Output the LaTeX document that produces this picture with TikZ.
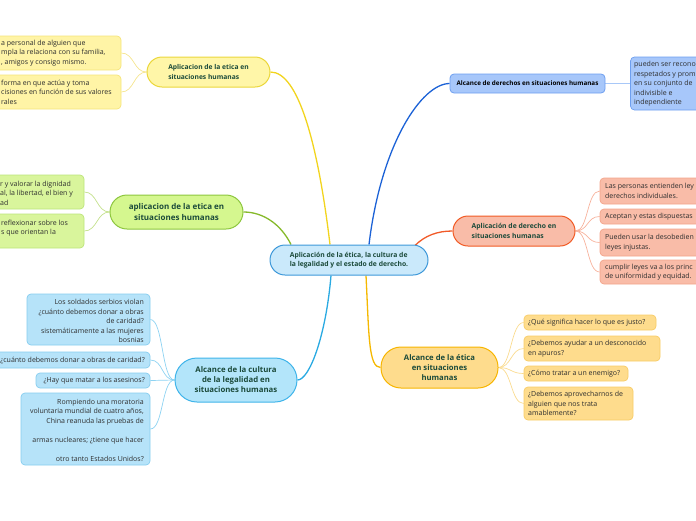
\documentclass[tikz,border=0pt]{standalone}
\usepackage{fontspec}
\setmainfont{Open Sans}
\usetikzlibrary{calc,backgrounds}
\definecolor{mtext}{HTML}{1B4A3A}
\definecolor{ctext}{HTML}{2E2E2E}
\definecolor{ctrfill}{HTML}{CAE9FB}\definecolor{ctrborder}{HTML}{3D98D9}
\definecolor{yfill}{HTML}{FFF6A8}\definecolor{yborder}{HTML}{EBD73B}\definecolor{yline}{HTML}{F2D41E}
\definecolor{ycfill}{HTML}{FFF4A6}\definecolor{ycborder}{HTML}{F5E47A}\definecolor{ycline}{HTML}{F5E58F}
\definecolor{gfill}{HTML}{D5F78F}\definecolor{gborder}{HTML}{8DC63F}\definecolor{gline}{HTML}{86B92A}
\definecolor{gcfill}{HTML}{D9F59C}\definecolor{gcborder}{HTML}{BCE47A}\definecolor{gcline}{HTML}{C3E08B}
\definecolor{cfill}{HTML}{B3E5FA}\definecolor{cborder}{HTML}{3FB4EA}\definecolor{cline}{HTML}{2AAAE2}
\definecolor{ccfill}{HTML}{B6E3F9}\definecolor{ccborder}{HTML}{86CDEF}\definecolor{ccline}{HTML}{8ED3F2}
\definecolor{dline}{HTML}{1C62D6}\definecolor{dfill}{HTML}{A7C7FA}\definecolor{dborder}{HTML}{6D9FF0}\definecolor{dcline}{HTML}{A8C8F8}
\definecolor{rfill}{HTML}{F9BCA8}\definecolor{rborder}{HTML}{F15A24}\definecolor{rline}{HTML}{F15A28}
\definecolor{rcborder}{HTML}{F3A48A}\definecolor{rcline}{HTML}{F7B29C}
\definecolor{ofill}{HTML}{FEDC8D}\definecolor{oborder}{HTML}{F7B500}\definecolor{oline}{HTML}{F5B800}
\definecolor{ocborder}{HTML}{F8CC66}\definecolor{ocline}{HTML}{FADB8F}
\tikzset{
  cb/.style={draw, rounded corners=4pt, line width=0.7pt, inner sep=0pt},
  ct/.style={inner sep=0pt, font=\fontsize{7}{9.5}\selectfont, text=ctext},
  mb/.style={draw, line width=1pt, inner sep=0pt, text=mtext, align=center},
  ml/.style={line width=1.3pt},
  cl/.style={line width=0.7pt},
}
\begin{document}
\begin{tikzpicture}[x=1pt,y=-1pt]
\useasboundingbox (0,0) rectangle (696,520);
\clip (0,0) rectangle (696,520);

% center
\node[mb, fill=ctrfill, draw=ctrborder, minimum width=158pt, minimum height=30pt, rounded corners=15pt, align=left, font=\fontsize{6.8}{9.5}\selectfont\bfseries] (ctr) at (349,260) {Aplicación de la ética, la cultura de\\la legalidad y el estado de derecho.};

% main nodes
\node[mb, fill=yfill, draw=yborder, minimum width=123pt, minimum height=30pt, rounded corners=15pt, align=left, font=\fontsize{6.7}{10}\selectfont\bfseries] (A) at (208.5,72) {Aplicacion de la etica en\\situaciones humanas};
\node[mb, fill=gfill, draw=gborder, minimum width=133pt, minimum height=34pt, rounded corners=17pt, font=\fontsize{8}{11.5}\selectfont\bfseries] (B) at (176.5,212) {aplicacion de la etica en\\situaciones humanas};
\node[mb, fill=cfill, draw=cborder, minimum width=122pt, minimum height=44pt, rounded corners=22pt, font=\fontsize{7.8}{10}\selectfont\bfseries] (C) at (236,380) {Alcance de la cultura\\de la legalidad en\\situaciones humanas};
\node[mb, fill=dfill, draw=dborder, line width=0.8pt, minimum width=155pt, minimum height=19pt, rounded corners=4pt, text=black, font=\fontsize{6.3}{9}\selectfont\bfseries] (D) at (527.5,83.5) {Alcance de derechos en situaciones humanas};
\node[mb, fill=rfill, draw=rborder, minimum width=122pt, minimum height=30pt, rounded corners=15pt, align=left, font=\fontsize{6.8}{10}\selectfont\bfseries] (E) at (514,231) {Aplicación de derecho en\\situaciones humanas};
\node[mb, fill=ofill, draw=oborder, minimum width=117pt, minimum height=41pt, rounded corners=20pt, font=\fontsize{7.7}{10}\selectfont\bfseries] (F) at (439.5,367.5) {Alcance de la ética\\en situaciones\\humanas};

% yellow children
\node[cb, fill=ycfill, draw=ycborder, minimum width=126pt, minimum height=34pt] (A1) at (58,53) {};
\node[ct, anchor=west, align=left] (A1t) at (1,53) {a personal de alguien que\\mpla la relaciona con su familia,\\, amigos y consigo mismo.};
\node[cb, fill=ycfill, draw=ycborder, minimum width=126pt, minimum height=34pt] (A2) at (58,92) {};
\node[ct, anchor=west, align=left] (A2t) at (1,92) {forma en que actúa y toma\\cisiones en función de sus valores\\rales};

% green children
\node[cb, fill=gcfill, draw=gcborder, minimum width=89pt, minimum height=34pt] (B1) at (39.5,192) {};
\node[ct, anchor=west, align=left] (B1t) at (0,193) {r y valorar la dignidad\\al, la libertad, el bien y\\ad};
\node[cb, fill=gcfill, draw=gcborder, minimum width=89pt, minimum height=34pt] (B2) at (39.5,231) {};
\node[ct, anchor=west, align=left] (B2t) at (1,232) {reflexionar sobre los\\s que orientan la\\\mbox{}};

% light blue children
\node[cb, fill=ccfill, draw=ccborder, minimum width=123pt, minimum height=51pt] (C1) at (88.5,319.5) {};
\node[ct, anchor=east, align=right] (C1t) at (144,321) {Los soldados serbios violan\\¿cuánto debemos donar a obras\\de caridad?\\sistemáticamente a las mujeres\\bosnias};
\node[cb, fill=ccfill, draw=ccborder, minimum width=155pt, minimum height=16pt] (C2) at (72.5,360) {};
\node[ct, anchor=east, align=right] (C2t) at (145,360) {¿cuánto debemos donar a obras de caridad?};
\node[cb, fill=ccfill, draw=ccborder, minimum width=114pt, minimum height=15pt] (C3) at (93,380.5) {};
\node[ct, anchor=east, align=right] (C3t) at (145,380.5) {¿Hay que matar a los asesinos?};
\node[cb, fill=ccfill, draw=ccborder, minimum width=129pt, minimum height=72pt] (C4) at (85.5,429) {};
\node[ct, anchor=east, align=right] (C4t) at (144,430) {Rompiendo una moratoria\\voluntaria mundial de cuatro años,\\China reanuda las pruebas de\\\mbox{}\\armas nucleares; ¿tiene que hacer\\\mbox{}\\otro tanto Estados Unidos?};

% dark blue child
\node[cb, fill=dfill, draw=dborder, minimum width=80pt, minimum height=53pt] (D1) at (670.5,83.5) {};
\node[ct, anchor=west, align=left] (D1t) at (634,84) {pueden ser recono\\respetados y prom\\en su conjunto de\\indivisible e\\independiente};

% red children
\node[cb, fill=rfill, draw=rcborder, minimum width=110pt, minimum height=26pt] (E1) at (655,191) {};
\node[ct, anchor=west, align=left] (E1t) at (605,191) {Las personas entienden ley\\derechos individuales.};
\node[cb, fill=rfill, draw=rcborder, minimum width=110pt, minimum height=15pt] (E2) at (655,216.5) {};
\node[ct, anchor=west, align=left] (E2t) at (605,216.5) {Aceptan y estas dispuestas};
\node[cb, fill=rfill, draw=rcborder, minimum width=110pt, minimum height=27pt] (E3) at (655,242.5) {};
\node[ct, anchor=west, align=left] (E3t) at (605,242.5) {Pueden usar la desobedien\\leyes injustas.};
\node[cb, fill=rfill, draw=rcborder, minimum width=110pt, minimum height=24pt] (E4) at (655,272) {};
\node[ct, anchor=west, align=left] (E4t) at (605,272) {cumplir leyes va a los princ\\de uniformidad y equidad.};

% orange children
\node[cb, fill=ofill, draw=ocborder, minimum width=132pt, minimum height=15pt] (F1) at (590,322.5) {};
\node[ct, anchor=west, align=left] (F1t) at (528,322.5) {¿Qué significa hacer lo que es justo?};
\node[cb, fill=ofill, draw=ocborder, minimum width=136pt, minimum height=25pt] (F2) at (592,348.5) {};
\node[ct, anchor=west, align=left] (F2t) at (528,348.5) {¿Debemos ayudar a un desconocido\\en apuros?};
\node[cb, fill=ofill, draw=ocborder, minimum width=104pt, minimum height=15pt] (F3) at (576,373.5) {};
\node[ct, anchor=west, align=left] (F3t) at (528,373.5) {¿Cómo tratar a un enemigo?};
\node[cb, fill=ofill, draw=ocborder, minimum width=109pt, minimum height=33pt] (F4) at (578.5,403.5) {};
\node[ct, anchor=west, align=left] (F4t) at (528,403.5) {¿Debemos aprovecharnos de\\alguien que nos trata\\amablemente?};

\begin{scope}[on background layer]
% main connectors
\draw[ml, yline] ([xshift=-19pt]ctr.north) .. controls +(-12,-100) and +(28,0) .. (A.east);
\draw[ml, gline] ([xshift=-58pt]ctr.north) .. controls +(-10,-20) and +(20,0) .. (B.east);
\draw[ml, dline] ([xshift=20pt]ctr.north) .. controls +(12,-100) and +(-28,0) .. (D.west);
\draw[ml, rline] ([xshift=66pt,yshift=-1pt]ctr.north) .. controls +(10,-10) and +(-15,0) .. (E.west);
\draw[ml, cline] ([xshift=-18pt]ctr.south) .. controls +(-5,60) and +(12,0) .. (C.east);
\draw[ml, oline] ([xshift=17pt]ctr.south) .. controls +(3,60) and +(-12,0) .. (F.west);
% child connectors
\foreach \c in {A1,A2} \draw[cl, ycline] (A.west) .. controls +(-13,0) and +(13,0) .. (\c.east);
\foreach \c in {B1,B2} \draw[cl, gcline] (B.west) .. controls +(-13,0) and +(13,0) .. (\c.east);
\foreach \c in {C1,C2,C3,C4} \draw[cl, ccline] (C.west) .. controls +(-13,0) and +(13,0) .. (\c.east);
\draw[cl, dcline] (D.east) -- (D1.west);
\foreach \c in {E1,E2,E3,E4} \draw[cl, rcline] (E.east) .. controls +(13,0) and +(-13,0) .. (\c.west);
\foreach \c in {F1,F2,F3,F4} \draw[cl, ocline] (F.east) .. controls +(13,0) and +(-13,0) .. (\c.west);
\end{scope}
\end{tikzpicture}
\end{document}
